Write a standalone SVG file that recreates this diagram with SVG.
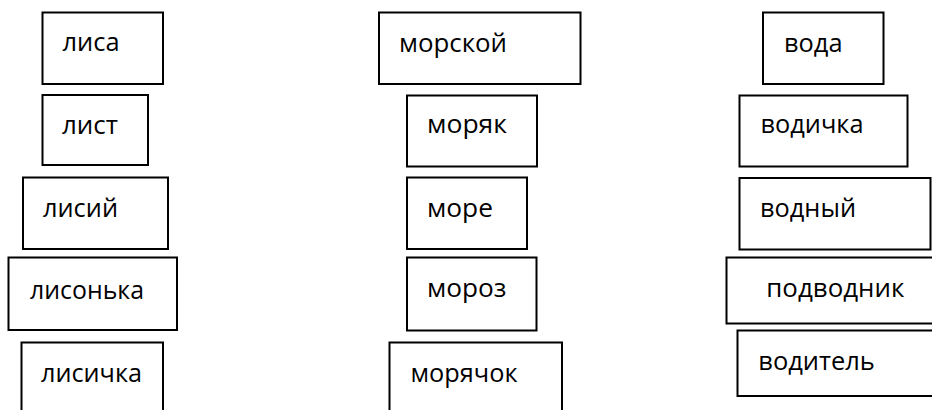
<svg xmlns="http://www.w3.org/2000/svg" width="932" height="410" viewBox="0 0 932 410">
<style>
.box{fill:#fff;stroke:#000;stroke-width:2}
.lbl{font-family:"Open Sans","Liberation Sans",sans-serif;font-size:26px;fill:#000}
</style>
<rect width="932" height="410" fill="#fff"/>
<g id="connectors"/>
<g id="n-lisa"><rect class="box" x="42.5" y="12.5" width="120.5" height="71.5"/><text class="lbl" x="62.5" y="51" textLength="57" lengthAdjust="spacingAndGlyphs">лиса</text></g>
<g id="n-list"><rect class="box" x="42.5" y="95" width="105.5" height="70"/><text class="lbl" x="62" y="134" textLength="56" lengthAdjust="spacingAndGlyphs">лист</text></g>
<g id="n-lisiy"><rect class="box" x="23" y="177.5" width="145" height="71.5"/><text class="lbl" x="43" y="217" textLength="75" lengthAdjust="spacingAndGlyphs">лисий</text></g>
<g id="n-lisonka"><rect class="box" x="8.5" y="257.5" width="168.5" height="72.5"/><text class="lbl" x="30" y="299" textLength="114" lengthAdjust="spacingAndGlyphs">лисонька</text></g>
<g id="n-lisichka"><rect class="box" x="21.5" y="342.5" width="141.5" height="80"/><text class="lbl" x="41" y="382" textLength="101" lengthAdjust="spacingAndGlyphs">лисичка</text></g>
<g id="n-morskoy"><rect class="box" x="379" y="12.5" width="201.5" height="71.5"/><text class="lbl" x="399" y="52" textLength="108" lengthAdjust="spacingAndGlyphs">морской</text></g>
<g id="n-moryak"><rect class="box" x="407" y="95.5" width="130" height="71"/><text class="lbl" x="427" y="133" textLength="80" lengthAdjust="spacingAndGlyphs">моряк</text></g>
<g id="n-more"><rect class="box" x="407" y="177.5" width="120" height="71.5"/><text class="lbl" x="427" y="217" textLength="66" lengthAdjust="spacingAndGlyphs">море</text></g>
<g id="n-moroz"><rect class="box" x="407" y="257.5" width="129.5" height="73"/><text class="lbl" x="427" y="297" textLength="79.5" lengthAdjust="spacingAndGlyphs">мороз</text></g>
<g id="n-moryachok"><rect class="box" x="389.5" y="342.5" width="172.5" height="80"/><text class="lbl" x="410.5" y="382" textLength="107" lengthAdjust="spacingAndGlyphs">морячок</text></g>
<g id="n-voda"><rect class="box" x="763" y="12.5" width="120.5" height="71.5"/><text class="lbl" x="784" y="52" textLength="58.5" lengthAdjust="spacingAndGlyphs">вода</text></g>
<g id="n-vodichka"><rect class="box" x="739.5" y="95.5" width="168" height="71"/><text class="lbl" x="760.5" y="133.3" textLength="103" lengthAdjust="spacingAndGlyphs">водичка</text></g>
<g id="n-vodnyy"><rect class="box" x="739.5" y="178" width="191" height="71.5"/><text class="lbl" x="760" y="217.3" textLength="96" lengthAdjust="spacingAndGlyphs">водный</text></g>
<g id="n-podvodnik"><rect class="box" x="726.5" y="257.5" width="220" height="66"/><text class="lbl" x="766.3" y="297" textLength="138" lengthAdjust="spacingAndGlyphs">подводник</text></g>
<g id="n-voditel"><rect class="box" x="737.5" y="330.5" width="220" height="65.5"/><text class="lbl" x="758.3" y="370" textLength="116.5" lengthAdjust="spacingAndGlyphs">водитель</text></g>
</svg>
